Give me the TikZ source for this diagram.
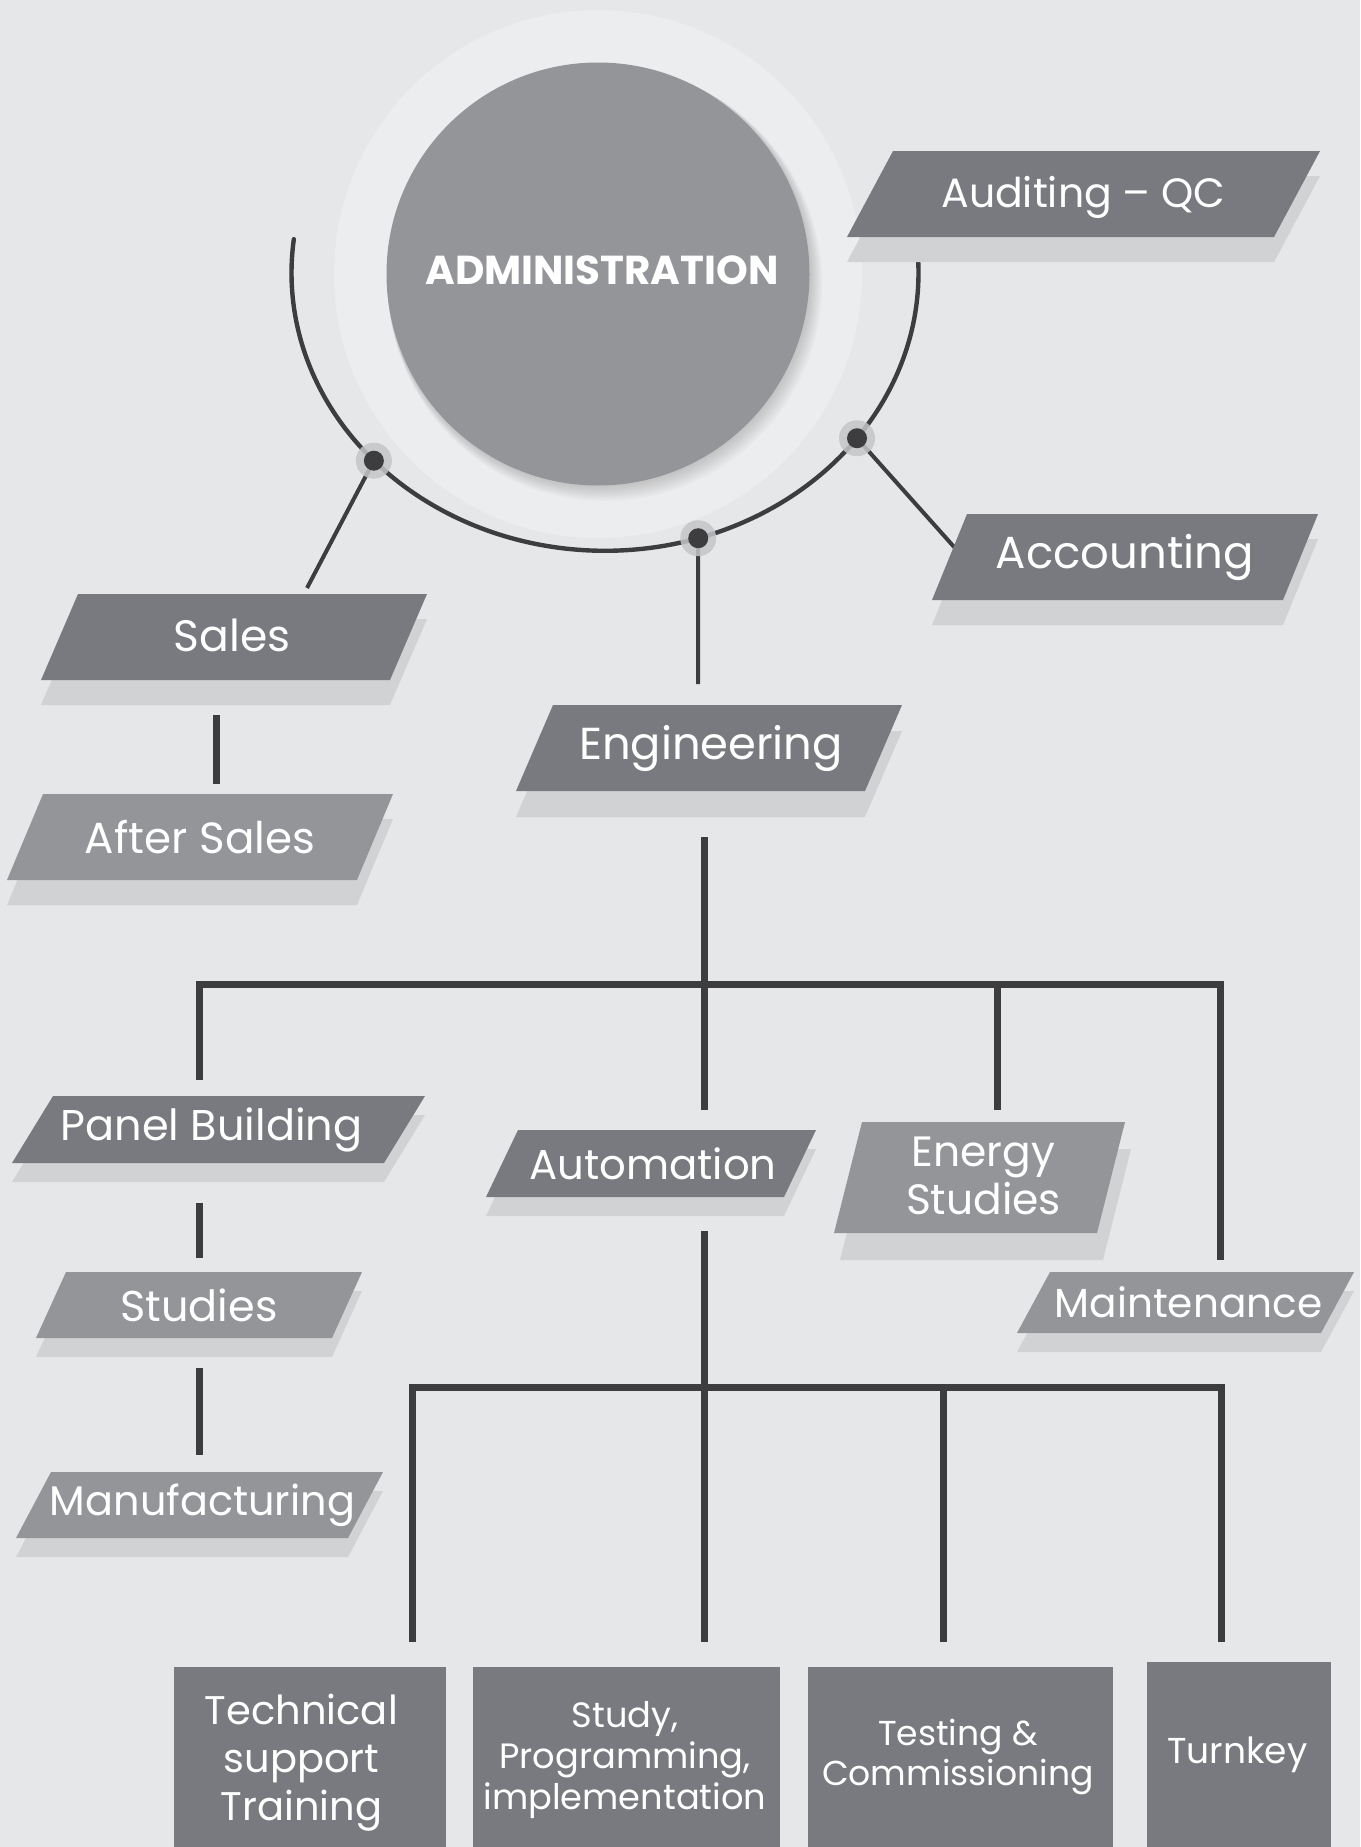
\documentclass[tikz,border=0pt]{standalone}
\usepackage{fontspec}
\setmainfont{Poppins}
\definecolor{bgc}{HTML}{E6E7E9}
\definecolor{ringc}{HTML}{ECEDEE}
\definecolor{circc}{HTML}{949599}
\definecolor{darkc}{HTML}{797A7F}
\definecolor{lightc}{HTML}{949599}
\definecolor{shadc}{HTML}{D1D2D4}
\definecolor{linec}{HTML}{3D3D3F}
\definecolor{haloc}{HTML}{C4C5C8}
\newcommand{\fz}[2]{\fontsize{#1}{#2}\selectfont}
% #1 node options, #2 TL x, #3 TR x, #4 top y, #5 bottom y, #6 skew, #7 shadow shift, #8 fill, #9 text
\newcommand{\pgram}[9]{%
  \fill[shadc, shift={(#7)}] (#2,#4) -- (#3,#4) -- ({#3-#6},#5) -- ({#2-#6},#5) -- cycle;
  \fill[#8] (#2,#4) -- (#3,#4) -- ({#3-#6},#5) -- ({#2-#6},#5) -- cycle;
  \node[lbl,#1] at ({(#2+#3-#6)/2},{(#4+#5)/2}) {#9};
}
\tikzset{
  lbl/.style={text=white, inner sep=0pt, align=center},
  thinconn/.style={draw=linec, line width=2pt},
  treeline/.style={draw=linec, line width=3.5pt, line join=miter},
  botbox/.style={fill=darkc, inner sep=0pt, anchor=north west},
}
\begin{document}
\begin{tikzpicture}[x=0.5pt,y=-0.5pt]
\useasboundingbox (0,0) rectangle (1360,1847);
\fill[bgc] (0,0) rectangle (1360,1847);

% central circles
\fill[ringc] (598,274) circle[radius=132pt];
\foreach \i in {1,...,7}
  \fill[black, opacity=0.025] ({598+\i*1.0},{274+\i*1.4}) circle[radius={105.75pt+\i*0.4pt}];
\fill[circc] (598,274) circle[radius=105.75pt];
\node[lbl, font=\fz{20.2}{22}\bfseries] (admin) at (602,270) {ADMINISTRATION};

% arc
\draw[linec, line width=2.2pt, line cap=round] plot[domain=-2.2:187, samples=150, smooth]
  ({605+313.5*cos(\x)},{273+277.8*sin(\x)});

\coordinate (dL) at ({605+313.5*cos(137.5)},{273+277.8*sin(137.5)});
\coordinate (dB) at ({605+313.5*cos(72.7)},{273+277.8*sin(72.7)});
\coordinate (dR) at ({605+313.5*cos(36.5)},{273+277.8*sin(36.5)});

\coordinate (salesIn) at (307,588);
\coordinate (engIn) at (698,684);
\coordinate (accIn) at (955,548);
\draw[thinconn] (dL) -- (salesIn);
\draw[thinconn] (dB) -- (engIn);
\draw[thinconn] (dR) -- (accIn);
\foreach \d in {dL,dB,dR}{
  \fill[haloc, opacity=0.85] (\d) circle[radius=9pt];
  \fill[linec] (\d) circle[radius=5pt];
}

% upper boxes
\pgram{name=audit, yshift=-1.5pt, font=\fz{20.5}{24}}{893}{1320}{151}{237}{46}{0,25}{darkc}{Auditing – QC}
\pgram{name=acc, font=\fz{22.5}{26}}{967}{1318}{514}{600}{35}{0,25}{darkc}{Accounting}
\pgram{name=sales, xshift=-1pt, yshift=1pt, font=\fz{22}{26}}{78}{427}{594}{680}{37}{0,25}{darkc}{Sales}
\pgram{name=after, font=\fz{21.8}{26}}{43}{393}{794}{880}{36}{0,25}{lightc}{After Sales}
\pgram{name=eng, xshift=1pt, font=\fz{22.4}{26}}{553}{902}{705}{791}{37}{0,26}{darkc}{Engineering}

% middle boxes
\pgram{name=panel, xshift=-3.5pt, font=\fz{21.5}{24}}{53}{425}{1096}{1163}{41}{0,19}{darkc}{Panel Building}
\pgram{name=studies, font=\fz{21.5}{24}}{66}{362}{1272}{1338}{30}{0,19}{lightc}{Studies}
\pgram{name=manuf, xshift=1.5pt, font=\fz{20.7}{24}}{51}{383}{1472}{1538}{35}{0,19}{lightc}{Manufacturing}
\pgram{name=auto, xshift=1pt, font=\fz{20.9}{24}}{518}{816}{1130}{1197}{32}{0,19}{darkc}{Automation}
\pgram{name=energy, xshift=2pt, yshift=1pt, font=\fz{21.2}{24}}{862}{1125}{1122}{1233}{28}{6,27}{lightc}{Energy\\Studies}
\pgram{name=maint, xshift=1.5pt, font=\fz{20.3}{24}}{1050}{1354}{1272}{1333}{33}{0,19}{lightc}{Maintenance}

% short connectors
\draw[treeline] (216,715) coordinate (saTop) -- (216,784) coordinate (saBot);
\draw[treeline] (199,1203) coordinate (psTop) -- (199,1258) coordinate (psBot);
\draw[treeline] (199,1368) coordinate (smTop) -- (199,1455) coordinate (smBot);

% engineering tree
\coordinate (eStem) at (704,837);
\coordinate (eJ) at (704,984);
\coordinate (toPanel) at (199,1080);
\coordinate (toAuto) at (704,1110);
\coordinate (toEnergy) at (997,1110);
\coordinate (toMaint) at (1220,1260);
\draw[treeline] (eStem) -- (eJ);
\draw[treeline] (toPanel) |- (eJ) -| (toMaint);
\draw[treeline] (eJ) -- (toAuto);
\draw[treeline] (toEnergy |- eJ) -- (toEnergy);

% automation tree
\coordinate (aStem) at (704,1231);
\coordinate (aJ) at (704,1387);
\coordinate (toB1) at (412,1642);
\coordinate (toB2) at (704,1642);
\coordinate (toB3) at (943,1642);
\coordinate (toB4) at (1221,1642);
\draw[treeline] (aStem) -- (aJ);
\draw[treeline] (toB1) |- (aJ) -| (toB4);
\draw[treeline] (aJ) -- (toB2);
\draw[treeline] (toB3 |- aJ) -- (toB3);

% bottom boxes
\node[botbox, minimum width=136pt, minimum height=90pt] (b1) at (174,1667) {};
\node[botbox, minimum width=153.5pt, minimum height=90pt] (b2) at (473,1667) {};
\node[botbox, minimum width=152.5pt, minimum height=90pt] (b3) at (808,1667) {};
\node[botbox, minimum width=92pt, minimum height=92.5pt] (b4) at (1147,1662) {};
\node[lbl, font=\fz{20}{24}] (b1t) at ([xshift=-4.5pt,yshift=-2.5pt]b1.center) {Technical\\support\\Training};
\node[lbl, font=\fz{17.6}{20.5}] (b2t) at ([xshift=-1pt,yshift=-1.5pt]b2.center) {Study,\\Programming,\\implementation};
\node[lbl, font=\fz{17.3}{20}] (b3t) at ([xshift=-1.5pt,yshift=0pt]b3.center) {Testing \&\\Commissioning};
\node[lbl, font=\fz{18}{20}] (b4t) at ([xshift=-1pt,yshift=0pt]b4.center) {Turnkey};
\end{tikzpicture}
\end{document}
